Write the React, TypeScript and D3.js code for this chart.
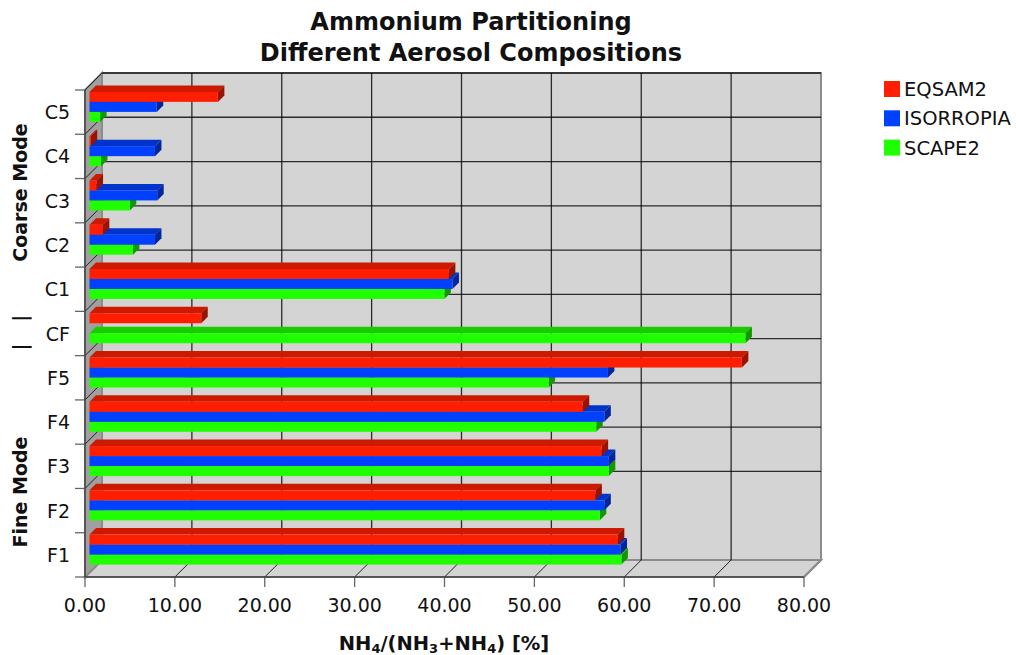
import React from "react";
import * as d3 from "d3";

const categories = ["F1", "F2", "F3", "F4", "F5", "CF", "C1", "C2", "C3", "C4", "C5"];
const eqsam2 = [58.7, 56.2, 56.9, 54.8, 72.5, 12.35, 39.9, 1.4, 0.7, 0.05, 14.2];
const isorropia = [59, 57.2, 57.7, 57.2, 57.6, null, 40.3, 7.2, 7.45, 7.2, 7.4];
const scape2 = [59.1, 56.7, 57.7, 56.3, 51, 72.9, 39.4, 4.75, 4.4, 1.2, 1.1];
const xTicks = [0, 10, 20, 30, 40, 50, 60, 70, 80];
const seriesNames = ["EQSAM2", "ISORROPIA", "SCAPE2"];
const seriesValues = [eqsam2, isorropia, scape2];
const seriesFront = ["#ff1f00", "#0040ff", "#1fff00"];
const seriesTop = ["#cc1900", "#0033cc", "#19cc00"];
const seriesSide = ["#991300", "#002699", "#139900"];

const D = 17;
const FONT = "'DejaVu Sans', Verdana, sans-serif";
const x = d3.scaleLinear().domain([0, 80]).range([85, 804]);
const y = d3.scaleBand<string>().domain(categories).range([577, 90]);
const unit = (x(80) - x(0)) / 80;
const shift = 5.25;
const barDepth = 6.5;
const barH = 10;
const groupNames = ["Fine Mode", "Coarse Mode"];

function pts(a: number[][]) {
  return a.map((p) => p.join(",")).join(" ");
}

export default function App() {
  const top = 90, bot = 577, left = x(0), right = x(80);
  const yTicks = categories.map((c) => y(c)!).concat([577]);
  return (
    <svg width={1016} height={655} style={{ position: "absolute", left: 0, top: 0, fontFamily: FONT }}>
      {/* walls */}
      <polygon points={pts([[left + D, top - D], [right + D, top - D], [right + D, bot - D], [left + D, bot - D]])} fill="#d4d4d4" stroke="#8c8c8c" strokeWidth={2} />
      <polygon points={pts([[left, bot], [right, bot], [right + D, bot - D], [left + D, bot - D]])} fill="#d4d4d4" stroke="#8c8c8c" strokeWidth={2} />
      <polygon points={pts([[left, top], [left + D, top - D], [left + D, bot - D], [left, bot]])} fill="#a0a0a0" stroke="#8c8c8c" strokeWidth={2} />
      {/* grid */}
      {xTicks.map((t) => (
        <g key={t}>
          {t > 0 && t < 80 && <line x1={x(t) + D} x2={x(t) + D} y1={top - D} y2={bot - D} stroke="#000" strokeOpacity={0.8} strokeWidth={1.3} />}
          {t > 0 && <line x1={x(t)} x2={x(t) + D} y1={bot} y2={bot - D} stroke={t < 80 ? "#222" : "#8c8c8c"} strokeWidth={t < 80 ? 1 : 2} />}
          <line x1={x(t)} x2={x(t)} y1={bot} y2={bot + 10} stroke="#666" strokeWidth={1.3} />
          <text x={x(t)} y={612} textAnchor="middle" fontSize={19} fill="#111">{t.toFixed(2)}</text>
        </g>
      ))}
      {yTicks.map((v, i) => (
        <g key={i}>
          {i > 0 && i < categories.length && <line x1={left + D} x2={right + D} y1={v - D} y2={v - D} stroke="#000" strokeOpacity={0.8} strokeWidth={1.3} />}
          {i < categories.length && i > 0 && <line x1={left} x2={left + D} y1={v} y2={v - D} stroke="#222" strokeWidth={1} />}
          <line x1={left - 10} x2={left} y1={v} y2={v} stroke="#666" strokeWidth={1.3} />
        </g>
      ))}
      <line x1={left} x2={left} y1={top} y2={bot} stroke="#444" strokeWidth={1.5} />
      <line x1={left} x2={right} y1={bot} y2={bot} stroke="#444" strokeWidth={1.5} />
      {/* bars */}
      {categories.map((c, i) => {
        const cy = y(c)! + y.bandwidth() / 2 - shift;
        return (
          <g key={c}>
            {[2, 1, 0].map((s) => {
              const v = seriesValues[s][i];
              if (v === null) return null;
              const x0 = x(0) + shift - 0.75;
              const x1 = x(0) + shift + v * unit;
              const t = cy - 1.5 * barH + s * barH;
              const b = t + barH;
              return (
                <g key={s}>
                  <polygon points={pts([[x0, t], [x1, t], [x1 + barDepth, t - barDepth], [x0 + barDepth, t - barDepth]])} fill={seriesTop[s]} />
                  <polygon points={pts([[x1, t], [x1 + barDepth, t - barDepth], [x1 + barDepth, b - barDepth], [x1, b]])} fill={seriesSide[s]} />
                  <rect x={x0} y={t} width={x1 - x0} height={barH} fill={seriesFront[s]} />
                </g>
              );
            })}
            <text x={70} y={y(c)! + y.bandwidth() / 2 + 7} textAnchor="end" fontSize={19} fill="#111">{c}</text>
          </g>
        );
      })}
      {/* group labels */}
      <text transform="translate(27,492) rotate(-90)" textAnchor="middle" fontSize={19} fontWeight="bold" fill="#111">{groupNames[0]}</text>
      <text transform="translate(27,192.5) rotate(-90)" textAnchor="middle" fontSize={19} fontWeight="bold" fill="#111">{groupNames[1]}</text>
      <text transform="translate(27,332.5) rotate(-90)" textAnchor="middle" fontSize={19} fontWeight="bold" fill="#111" letterSpacing={0.5} xmlSpace="preserve">{"|   |"}</text>
      {/* title */}
      <text x={471} y={30} textAnchor="middle" fontSize={24} fontWeight="bold" fill="#111">Ammonium Partitioning</text>
      <text x={471} y={61} textAnchor="middle" fontSize={24} fontWeight="bold" fill="#111">Different Aerosol Compositions</text>
      {/* x label */}
      <text x={444} y={650} textAnchor="middle" fontSize={19.5} fontWeight="bold" fill="#111">
        NH<tspan fontSize={13} dy={3}>4</tspan><tspan dy={-3}>/(NH</tspan><tspan fontSize={13} dy={3}>3</tspan><tspan dy={-3}>+NH</tspan><tspan fontSize={13} dy={3}>4</tspan><tspan dy={-3}>) [%]</tspan>
      </text>
      {/* legend */}
      {seriesNames.map((n, i) => (
        <g key={n}>
          <rect x={884} y={81 + i * 29.3} width={16} height={16} fill={seriesFront[i]} />
          <text x={904} y={96 + i * 29.3} fontSize={19.5} fill="#111">{n}</text>
        </g>
      ))}
    </svg>
  );
}
